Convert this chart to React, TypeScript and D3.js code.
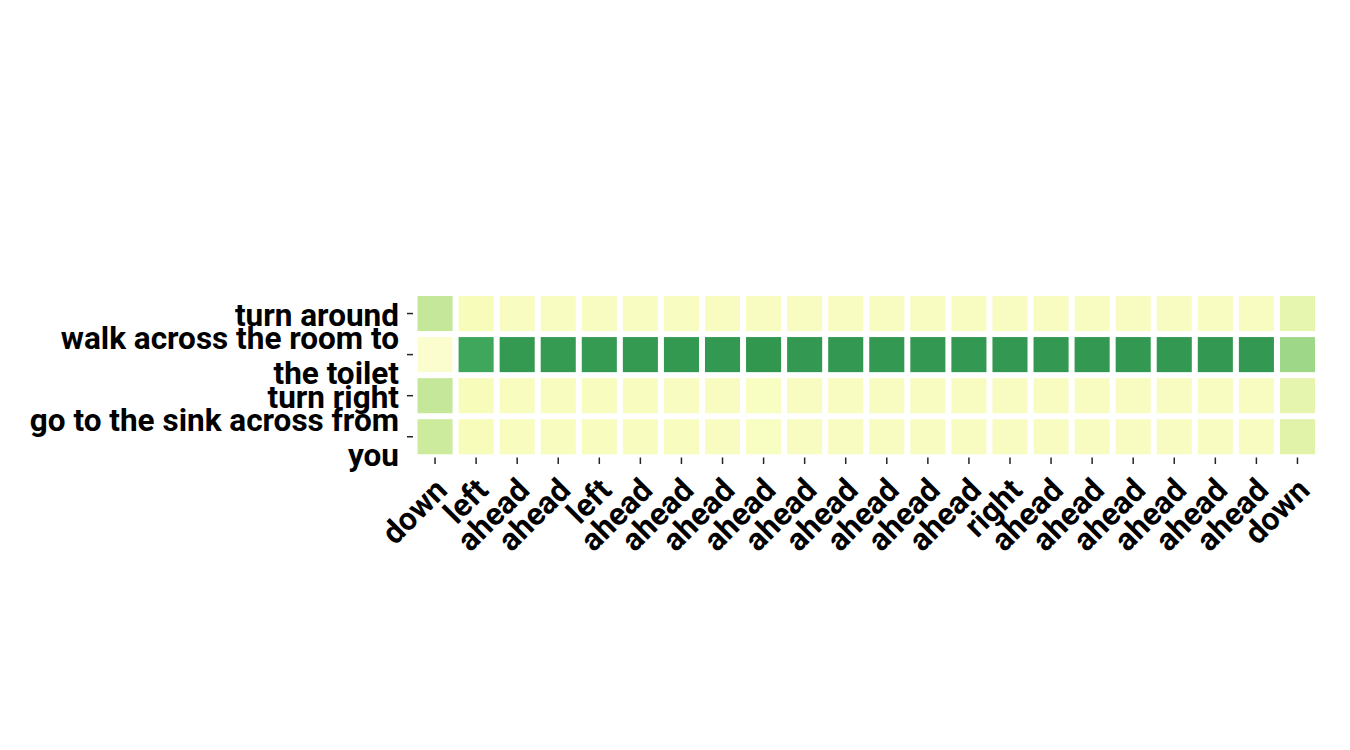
import * as d3 from "d3";
import { useEffect, useRef } from "react";

const rowLabels = [
  "turn around",
  "walk across the room to\nthe toilet",
  "turn right",
  "go to the sink across from\nyou",
];

const colLabels = [
  "down", "left", "ahead", "ahead", "left",
  "ahead", "ahead", "ahead", "ahead", "ahead", "ahead", "ahead", "ahead", "ahead",
  "right",
  "ahead", "ahead", "ahead", "ahead", "ahead", "ahead",
  "down",
];

// attention weights, one array per row (each column sums to ~1)
const turnAround = [0.31, 0.12, 0.105, 0.105, 0.105, 0.105, 0.105, 0.105, 0.105, 0.105, 0.105, 0.105, 0.105, 0.105, 0.105, 0.105, 0.105, 0.105, 0.105, 0.105, 0.105, 0.19];
const walkAcross = [0.065, 0.637, 0.68, 0.675, 0.675, 0.68, 0.682, 0.685, 0.69, 0.685, 0.685, 0.685, 0.685, 0.685, 0.685, 0.685, 0.685, 0.685, 0.685, 0.685, 0.685, 0.41];
const turnRight = [0.31, 0.121, 0.108, 0.11, 0.11, 0.107, 0.106, 0.105, 0.103, 0.105, 0.105, 0.105, 0.105, 0.105, 0.105, 0.105, 0.105, 0.105, 0.105, 0.105, 0.105, 0.196];
const goToSink = [0.284, 0.122, 0.107, 0.11, 0.11, 0.108, 0.107, 0.105, 0.102, 0.105, 0.105, 0.105, 0.105, 0.105, 0.105, 0.105, 0.105, 0.105, 0.105, 0.105, 0.105, 0.221];

const values = [turnAround, walkAcross, turnRight, goToSink];

export default function App() {
  const svgRef = useRef<SVGSVGElement | null>(null);
  const width = 1350;
  const height = 750;

  useEffect(() => {
    if (!svgRef.current) return;
    const svg = d3.select(svgRef.current);
    svg.selectAll("*").remove();

    const font = "Roboto, 'DejaVu Sans', sans-serif";
    const fs = 31.5;

    const x = d3
      .scaleBand<number>()
      .domain(d3.range(colLabels.length))
      .range([414.5, 1318]);
    const y = d3
      .scaleBand<number>()
      .domain(d3.range(rowLabels.length))
      .range([293, 457.3]);

    // matplotlib-style linear YlGn, vmin 0 / vmax 1
    const color = d3
      .scaleSequential(d3.piecewise(d3.interpolateRgb, d3.schemeYlGn[9] as string[]))
      .domain([0, 1]);

    const cells = values.flatMap((row, r) => row.map((v, c) => ({ r, c, v })));
    const gap = 3;

    svg
      .append("g")
      .selectAll("rect")
      .data(cells)
      .enter()
      .append("rect")
      .attr("x", (d) => x(d.c)! + gap)
      .attr("y", (d) => y(d.r)! + gap)
      .attr("width", x.bandwidth() - gap * 2)
      .attr("height", y.bandwidth() - gap * 2)
      .attr("fill", (d) => color(d.v));

    // y axis ticks + labels
    const yAxis = svg.append("g");
    rowLabels.forEach((label, r) => {
      const cy = y(r)! + y.bandwidth() / 2;
      yAxis
        .append("line")
        .attr("x1", 407)
        .attr("x2", 413)
        .attr("y1", cy)
        .attr("y2", cy)
        .attr("stroke", "#262626")
        .attr("stroke-width", 1.5);
      const lines = label.split("\n");
      const t = yAxis
        .append("text")
        .attr("text-anchor", "end")
        .attr("font-family", font)
        .attr("font-weight", "bold")
        .attr("font-size", fs)
        .attr("fill", "#000");
      lines.forEach((ln, i) => {
        t.append("tspan")
          .attr("x", 399)
          .attr("y", cy + 12 + (i - (lines.length - 1) / 2) * 35)
          .text(ln);
      });
    });

    // x axis ticks + rotated labels
    const xAxis = svg.append("g");
    colLabels.forEach((label, c) => {
      const cx = x(c)! + x.bandwidth() / 2;
      xAxis
        .append("line")
        .attr("x1", cx)
        .attr("x2", cx)
        .attr("y1", 457.5)
        .attr("y2", 464)
        .attr("stroke", "#262626")
        .attr("stroke-width", 1.5);
      xAxis
        .append("text")
        .attr("transform", `translate(${cx + 14},${492}) rotate(-45)`)
        .attr("text-anchor", "end")
        .attr("font-family", font)
        .attr("font-weight", "bold")
        .attr("font-size", fs)
        .attr("fill", "#000")
        .text(label);
    });
  }, [svgRef]);

  return (
    <svg
      ref={svgRef}
      width={width}
      height={height}
      style={{ position: "absolute", left: 0, top: 0, background: "#fff" }}
    />
  );
}
